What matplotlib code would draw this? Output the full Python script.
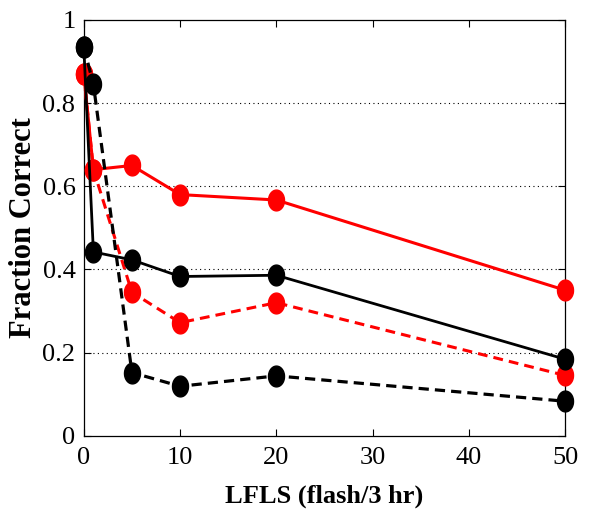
import matplotlib
matplotlib.use("Agg")
import matplotlib.pyplot as plt
import numpy as np
from matplotlib.path import Path

# LFLS thresholds (flash / 3 hr)
lfls = [0, 1, 5, 10, 20, 50]

red_solid = [0.87, 0.64, 0.65, 0.58, 0.567, 0.35]
red_dashed = [0.87, 0.64, 0.345, 0.272, 0.32, 0.145]
black_solid = [0.935, 0.442, 0.423, 0.383, 0.386, 0.184]
black_dashed = [0.935, 0.845, 0.152, 0.119, 0.144, 0.083]

yticks = [0, 0.2, 0.4, 0.6, 0.8, 1]
ytick_labels = ["0", "0.2", "0.4", "0.6", "0.8", "1"]
xticks = [0, 10, 20, 30, 40, 50]

plt.rcParams["font.family"] = ["Liberation Serif", "DejaVu Serif"]

# slightly tall ellipse marker, like the original figure
t = np.linspace(0, 2 * np.pi, 41)
oval = Path(np.column_stack([0.77 * np.cos(t), np.sin(t)]))

fig = plt.figure(figsize=(5.9, 5.25), dpi=100)
ax = fig.add_axes([0.142, 0.17, 0.816, 0.792])

for y in [0.2, 0.4, 0.6, 0.8]:
    ax.axhline(y, color="black", linestyle=(0, (1, 3)), linewidth=0.8, zorder=0)

kw = dict(marker=oval, ms=15, clip_on=False)
ax.plot(lfls, red_solid, "-", color="red", lw=2.2, zorder=3, **kw)
ax.plot(lfls, red_dashed, "--", color="red", lw=2.2, dashes=(3.2, 2.0), zorder=3, **kw)
ax.plot(lfls, black_solid, "-", color="black", lw=2.0, zorder=4, **kw)
ax.plot(lfls, black_dashed, "--", color="black", lw=2.3, dashes=(3.2, 1.9), zorder=4, **kw)

ax.set_xlim(0, 50)
ax.set_ylim(0, 1)
ax.set_xticks(xticks)
ax.set_yticks(yticks)
ax.set_yticklabels(ytick_labels)
ax.tick_params(direction="in", top=True, right=True, labelsize=19, length=5, width=0.8)
ax.tick_params(axis="x", pad=8)
ax.tick_params(axis="y", pad=6)
for s in ax.spines.values():
    s.set_linewidth(0.9)

ax.set_xlabel("LFLS (flash/3 hr)", fontsize=19, fontweight="bold", va="center")
ax.set_ylabel("Fraction Correct", fontsize=22, fontweight="bold", va="center")
ax.xaxis.set_label_coords(0.5, -0.145)
ax.yaxis.set_label_coords(-0.125, 0.5)

fig.savefig("out.png", dpi=100)
